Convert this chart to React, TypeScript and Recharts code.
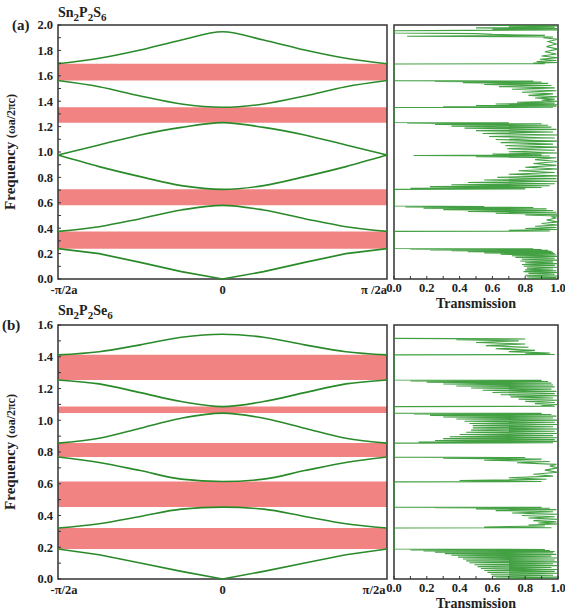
import React from 'react';
import { ComposedChart, LineChart, Line, XAxis, YAxis, ReferenceArea } from 'recharts';

// --- band structure, k in units of pi/2a ---
const kGrid = [-1, -0.75, -0.5, -0.25, 0, 0.25, 0.5, 0.75, 1];
const kTicks = [-1, 0, 1];
const kLabelsA = ['-π/2a', '0', 'π /2a'];
const kLabelsB = ['-π/2a', '0', 'π/2a'];

// Sn2P2S6
const bandA1 = [0.239, 0.2, 0.131, 0.058, 0, 0.058, 0.131, 0.2, 0.239];
const bandA2 = [0.375, 0.412, 0.475, 0.543, 0.58, 0.543, 0.475, 0.412, 0.375];
const bandA3 = [0.976, 0.885, 0.806, 0.735, 0.706, 0.735, 0.806, 0.885, 0.976];
const bandA4 = [0.976, 1.055, 1.134, 1.194, 1.231, 1.194, 1.134, 1.055, 0.976];
const bandA5 = [1.563, 1.514, 1.441, 1.378, 1.352, 1.378, 1.441, 1.514, 1.563];
const bandA6 = [1.695, 1.738, 1.803, 1.882, 1.947, 1.882, 1.803, 1.738, 1.695];
const gapsA = [[0.239, 0.375], [0.58, 0.706], [1.231, 1.352], [1.563, 1.695]];
const freqTicksA = [0, 0.1, 0.2, 0.3, 0.4, 0.5, 0.6, 0.7, 0.8, 0.9, 1.0, 1.1, 1.2, 1.3, 1.4, 1.5, 1.6, 1.7, 1.8, 1.9, 2.0];

// Sn2P2Se6
const bandB1 = [0.189, 0.153, 0.101, 0.048, 0, 0.048, 0.101, 0.153, 0.189];
const bandB2 = [0.321, 0.348, 0.394, 0.44, 0.453, 0.44, 0.394, 0.348, 0.321];
const bandB3 = [0.768, 0.734, 0.683, 0.629, 0.614, 0.629, 0.683, 0.734, 0.768];
const bandB4 = [0.856, 0.887, 0.95, 1.013, 1.045, 1.013, 0.95, 0.887, 0.856];
const bandB5 = [1.254, 1.229, 1.174, 1.118, 1.086, 1.118, 1.174, 1.229, 1.254];
const bandB6 = [1.412, 1.432, 1.475, 1.523, 1.542, 1.523, 1.475, 1.432, 1.412];
const gapsB = [[0.189, 0.321], [0.453, 0.614], [0.768, 0.856], [1.045, 1.086], [1.254, 1.412]];
const freqTicksB = [0, 0.1, 0.2, 0.3, 0.4, 0.5, 0.6, 0.7, 0.8, 0.9, 1.0, 1.1, 1.2, 1.3, 1.4, 1.5, 1.6];

// --- transmission spectra [frequency, T] ---
const transTicks = [0, 0.1, 0.2, 0.3, 0.4, 0.5, 0.6, 0.7, 0.8, 0.9, 1.0];

const transA = [
  [0.000, 1.00], [0.006, 0.82], [0.012, 0.99], [0.018, 0.81], [0.024, 1.00], [0.030, 0.80], [0.037, 0.98], [0.044, 0.82],
  [0.051, 1.00], [0.058, 0.79], [0.065, 0.99], [0.072, 0.80], [0.079, 0.97], [0.086, 0.81], [0.093, 1.00], [0.100, 0.79],
  [0.107, 0.98], [0.114, 0.78], [0.121, 1.00], [0.128, 0.80], [0.135, 0.97], [0.142, 0.77], [0.149, 1.00], [0.156, 0.78],
  [0.163, 0.98], [0.170, 0.74], [0.177, 1.00], [0.183, 0.72], [0.189, 0.99], [0.195, 0.65], [0.200, 0.98], [0.205, 0.55],
  [0.210, 0.97], [0.214, 0.45], [0.218, 0.96], [0.222, 0.35], [0.226, 0.94], [0.229, 0.22], [0.232, 0.90], [0.235, 0.10],
  [0.237, 0.85], [0.240, 0.00], [0.375, 0.00],
  [0.378, 0.95], [0.384, 0.70], [0.390, 1.00], [0.398, 0.80], [0.406, 0.99], [0.415, 0.86], [0.425, 1.00], [0.437, 0.90],
  [0.450, 1.00], [0.465, 0.93], [0.480, 0.99], [0.490, 0.96], [0.497, 1.00], [0.504, 0.80], [0.511, 1.00], [0.518, 0.62],
  [0.525, 0.99], [0.532, 0.45], [0.539, 0.97], [0.546, 0.30], [0.552, 0.93], [0.558, 0.18], [0.563, 0.85], [0.567, 0.07],
  [0.571, 0.55], [0.575, 0.00], [0.706, 0.00],
  [0.710, 0.80], [0.715, 0.10], [0.720, 0.90], [0.727, 0.22], [0.734, 0.95], [0.742, 0.35], [0.750, 0.98], [0.760, 0.45],
  [0.770, 1.00], [0.780, 0.55], [0.790, 0.99], [0.800, 0.63], [0.812, 1.00], [0.825, 0.70], [0.838, 0.98], [0.852, 0.76],
  [0.866, 1.00], [0.880, 0.80], [0.895, 0.99], [0.910, 0.85], [0.925, 1.00], [0.940, 0.86], [0.955, 0.99], [0.963, 0.50],
  [0.968, 0.95], [0.972, 0.12], [0.977, 0.90], [0.984, 0.60], [0.992, 1.00], [1.002, 0.70], [1.014, 0.98], [1.026, 0.69],
  [1.038, 1.00], [1.050, 0.68], [1.062, 0.97], [1.074, 0.65], [1.086, 1.00], [1.098, 0.62], [1.110, 0.98], [1.122, 0.58],
  [1.134, 1.00], [1.146, 0.54], [1.158, 0.97], [1.168, 0.50], [1.178, 0.99], [1.188, 0.43], [1.196, 0.96], [1.204, 0.35],
  [1.211, 0.94], [1.217, 0.25], [1.222, 0.90], [1.226, 0.08], [1.229, 0.70], [1.232, 0.00], [1.350, 0.00],
  [1.352, 0.97], [1.356, 0.30], [1.361, 0.99], [1.366, 0.50], [1.372, 1.00], [1.378, 0.62], [1.385, 0.98], [1.392, 0.75],
  [1.400, 1.00], [1.408, 0.90], [1.416, 0.98], [1.425, 0.86], [1.435, 1.00], [1.446, 0.82], [1.458, 0.97], [1.470, 0.78],
  [1.482, 0.99], [1.494, 0.72], [1.505, 0.98], [1.515, 0.64], [1.524, 0.96], [1.532, 0.55], [1.540, 0.94], [1.546, 0.42],
  [1.551, 0.90], [1.555, 0.25], [1.559, 0.85], [1.562, 0.00], [1.693, 0.00],
  [1.696, 0.92], [1.700, 0.85], [1.705, 1.00], [1.712, 0.87], [1.720, 0.99], [1.730, 0.89], [1.742, 1.00], [1.756, 0.90],
  [1.772, 0.99], [1.790, 0.92], [1.810, 1.00], [1.830, 0.93], [1.850, 0.99], [1.870, 0.94], [1.888, 1.00], [1.900, 0.91],
  [1.906, 0.97], [1.911, 0.08], [1.918, 0.92], [1.926, 0.60], [1.932, 0.50], [1.937, 0.00], [1.955, 0.00],
  [1.958, 0.45], [1.962, 1.00], [1.967, 0.60], [1.972, 1.00], [1.977, 0.50], [1.982, 0.98], [1.987, 0.70], [1.992, 1.00],
  [1.997, 0.60], [2.000, 0.95],
];

const transB = [
  [0.000, 0.98], [0.006, 0.62], [0.012, 1.00], [0.018, 0.60], [0.024, 0.97], [0.030, 0.59], [0.036, 1.00], [0.042, 0.57],
  [0.048, 0.98], [0.054, 0.55], [0.060, 1.00], [0.066, 0.53], [0.072, 0.96], [0.078, 0.51], [0.084, 1.00], [0.090, 0.49],
  [0.096, 0.97], [0.102, 0.46], [0.108, 1.00], [0.114, 0.44], [0.120, 0.98], [0.126, 0.42], [0.132, 1.00], [0.138, 0.39],
  [0.144, 0.96], [0.150, 0.35], [0.155, 0.99], [0.160, 0.31], [0.165, 0.97], [0.169, 0.25], [0.173, 0.98], [0.177, 0.18],
  [0.180, 0.95], [0.183, 0.10], [0.186, 0.92], [0.189, 0.00], [0.321, 0.00],
  [0.323, 0.96], [0.328, 0.55], [0.334, 0.92], [0.340, 0.82], [0.346, 1.00], [0.353, 0.88], [0.360, 0.99], [0.368, 0.85],
  [0.376, 1.00], [0.384, 0.82], [0.392, 0.98], [0.400, 0.78], [0.408, 1.00], [0.416, 0.72], [0.424, 0.97], [0.431, 0.62],
  [0.437, 0.99], [0.442, 0.50], [0.446, 0.95], [0.449, 0.25], [0.451, 0.90], [0.453, 0.00], [0.612, 0.00],
  [0.614, 0.90], [0.620, 0.40], [0.628, 0.93], [0.638, 0.70], [0.648, 0.97], [0.660, 0.85], [0.672, 1.00], [0.686, 0.92],
  [0.700, 1.00], [0.712, 0.95], [0.722, 0.99], [0.732, 0.75], [0.740, 0.95], [0.748, 0.55], [0.755, 0.90], [0.761, 0.30],
  [0.765, 0.80], [0.768, 0.00], [0.856, 0.00],
  [0.858, 0.97], [0.862, 0.15], [0.867, 1.00], [0.872, 0.25], [0.878, 0.98], [0.884, 0.30], [0.890, 1.00], [0.896, 0.34],
  [0.903, 0.97], [0.910, 0.40], [0.917, 1.00], [0.924, 0.44], [0.931, 0.98], [0.938, 0.47], [0.945, 1.00], [0.952, 0.48],
  [0.959, 0.97], [0.966, 0.48], [0.973, 1.00], [0.980, 0.46], [0.987, 0.98], [0.994, 0.43], [1.001, 1.00], [1.008, 0.38],
  [1.014, 0.97], [1.020, 0.30], [1.026, 0.99], [1.031, 0.22], [1.036, 0.96], [1.040, 0.12], [1.043, 0.90], [1.045, 0.00],
  [1.086, 0.00],
  [1.088, 0.98], [1.093, 0.90], [1.099, 1.00], [1.105, 0.86], [1.112, 0.98], [1.119, 0.80], [1.126, 1.00], [1.133, 0.76],
  [1.140, 0.97], [1.147, 0.71], [1.154, 1.00], [1.161, 0.65], [1.168, 0.98], [1.175, 0.60], [1.182, 0.99], [1.189, 0.54],
  [1.196, 0.96], [1.203, 0.47], [1.210, 0.98], [1.216, 0.38], [1.222, 0.97], [1.228, 0.30], [1.234, 0.96], [1.239, 0.20],
  [1.244, 0.94], [1.248, 0.10], [1.251, 0.90], [1.254, 0.00], [1.412, 0.00],
  [1.414, 0.98], [1.418, 0.80], [1.424, 0.95], [1.432, 0.70], [1.440, 0.86], [1.450, 0.62], [1.460, 0.82], [1.470, 0.56],
  [1.480, 0.80], [1.490, 0.50], [1.500, 0.76], [1.507, 0.38], [1.512, 0.80], [1.516, 0.00],
];

const FONT = "'Liberation Serif', 'Times New Roman', serif";
const AXIS = '#333';
const GREEN = '#2a8a2a';
const PINK = '#F28383';
const tickStyle = { fontFamily: FONT, fontWeight: 'bold', fontSize: 12.5, fill: '#222' };
const oneDecimal = (v: number) => (Math.round(v * 10) % 2 === 0 ? v.toFixed(1) : '');

function BandPanel({ bands, gaps, yMax, yTicks, kLabels, top }: any) {
  const rows = kGrid.map((k, i) => {
    const r: any = { k };
    bands.forEach((b: number[], j: number) => { r['b' + j] = b[i]; });
    return r;
  });
  const kTick = (p: any) => {
    const idx = kTicks.indexOf(p.payload.value);
    const shift = idx === 0 ? 6 : idx === kTicks.length - 1 ? -13 : 0;
    return (
      <text x={p.x + shift} y={p.y} dy="0.71em" textAnchor="middle" {...tickStyle}>
        {kLabels[idx]}
      </text>
    );
  };
  return (
    <div style={{ position: 'absolute', left: 0, top }}>
      <ComposedChart width={392} height={310} data={rows} margin={{ top: 25, right: 5, bottom: 0, left: 0 }}>
        <XAxis dataKey="k" type="number" domain={[-1, 1]} ticks={kTicks} interval={0}
          tick={kTick} tickLine={false} axisLine={false} tickSize={0} tickMargin={6} height={31} />
        <YAxis type="number" domain={[0, yMax]} ticks={yTicks} interval={0} tickFormatter={oneDecimal}
          tick={tickStyle} tickLine={{ stroke: AXIS }} tickSize={-3} tickMargin={8} axisLine={false} width={58} />
        {gaps.map((g: number[], i: number) => (
          <ReferenceArea key={i} x1={-1} x2={1} y1={g[0]} y2={g[1]} fill={PINK} fillOpacity={1} stroke="none" />
        ))}
        {bands.map((_: any, j: number) => (
          <Line key={j} dataKey={'b' + j} type={j === 0 ? 'linear' : 'monotone'} stroke={GREEN}
            strokeWidth={1.6} dot={false} isAnimationActive={false} />
        ))}
        <ReferenceArea x1={-1} x2={1} y1={0} y2={yMax} fill="none" stroke={AXIS} strokeWidth={1.5} />
      </ComposedChart>
    </div>
  );
}

function TransPanel({ spectrum, yMax, top }: any) {
  const rows = spectrum.map(([f, t]: number[]) => ({ f, t }));
  return (
    <div style={{ position: 'absolute', left: 360, top }}>
      <LineChart width={205} height={330} data={rows} margin={{ top: 25, right: 7, bottom: 21, left: 0 }}>
        <XAxis dataKey="t" type="number" domain={[0, 1]} ticks={transTicks} interval={0} tickFormatter={oneDecimal}
          tick={tickStyle} tickLine={{ stroke: AXIS }} tickSize={-3} tickMargin={7} axisLine={false} height={30} />
        <YAxis type="number" domain={[0, yMax]} allowDataOverflow tick={false} tickLine={false} axisLine={false} width={34} />
        <Line dataKey="f" type="linear" stroke="#2f962f" strokeWidth={1.1} strokeOpacity={0.9} dot={false} isAnimationActive={false} />
        <ReferenceArea x1={0} x2={1} y1={0} y2={yMax} fill="none" stroke={AXIS} strokeWidth={1.5} />
      </LineChart>
    </div>
  );
}

const txt = (extra: any) => ({ position: 'absolute' as const, fontFamily: FONT, fontWeight: 'bold', color: '#222', whiteSpace: 'nowrap' as const, lineHeight: 1, ...extra });

function FreqLabel({ cy }: { cy: number }) {
  return (
    <div style={txt({ left: 10, top: cy, transform: 'translate(-50%, -50%) rotate(-90deg)', fontSize: 15 })}>
      Frequency <span style={{ fontSize: 12 }}>(ωa/2πc)</span>
    </div>
  );
}

const sub = { fontSize: 11 };

export default function App() {
  return (
    <div style={{ position: 'absolute', left: 0, top: 0, width: 569, height: 614, background: '#fff' }}>
      <BandPanel bands={[bandA1, bandA2, bandA3, bandA4, bandA5, bandA6]} gaps={gapsA} yMax={2} yTicks={freqTicksA} kLabels={kLabelsA} top={0} />
      <TransPanel spectrum={transA} yMax={2} top={0} />
      <BandPanel bands={[bandB1, bandB2, bandB3, bandB4, bandB5, bandB6]} gaps={gapsB} yMax={1.6} yTicks={freqTicksB} kLabels={kLabelsB} top={300} />
      <TransPanel spectrum={transB} yMax={1.6} top={300} />

      <div style={txt({ left: 12, top: 18, fontSize: 15 })}>(a)</div>
      <div style={txt({ left: 58, top: 6, fontSize: 14 })}>Sn<sub style={sub}>2</sub>P<sub style={sub}>2</sub>S<sub style={sub}>6</sub></div>
      <div style={txt({ left: 2, top: 318, fontSize: 15 })}>(b)</div>
      <div style={txt({ left: 58, top: 304, fontSize: 14 })}>Sn<sub style={sub}>2</sub>P<sub style={sub}>2</sub>Se<sub style={sub}>6</sub></div>

      <FreqLabel cy={152} />
      <FreqLabel cy={452} />
      <div style={txt({ left: 476, top: 304, transform: 'translate(-50%, -50%)', fontSize: 14 })}>Transmission</div>
      <div style={txt({ left: 476, top: 604, transform: 'translate(-50%, -50%)', fontSize: 14 })}>Transmission</div>
    </div>
  );
}
